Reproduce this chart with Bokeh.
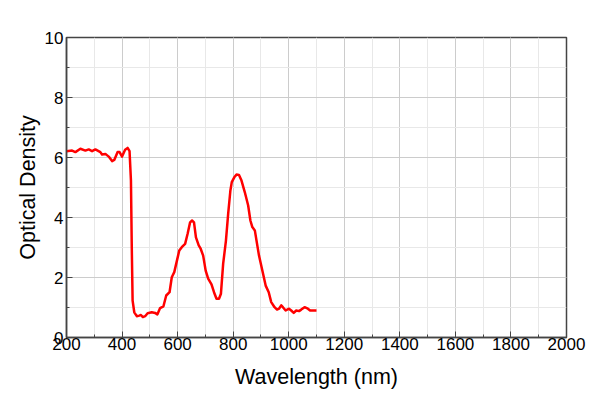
from bokeh.plotting import figure
from bokeh.models import SingleIntervalTicker, Range1d
from bokeh.embed import file_html
from bokeh.resources import INLINE

wavelength = [200, 220, 232, 250, 268, 280, 292, 304, 322, 328, 340, 352, 364, 372, 384, 391, 400, 411, 420, 427,
              432, 435, 438, 444, 453, 462, 468, 475, 483, 492, 507, 519, 527, 537, 549, 559, 571, 579, 588, 599,
              606, 615, 627, 636, 645, 652, 659, 666, 676, 683, 692, 701, 710, 722, 731, 740, 749, 756, 764, 774,
              782, 790, 795, 804, 812, 821, 830, 842, 854, 862, 869, 878, 886, 893, 905, 917, 928, 937, 949, 958,
              965, 973, 979, 989, 1001, 1009, 1018, 1027, 1037, 1045, 1057, 1069, 1077, 1093, 1100]
density = [6.21, 6.23, 6.18, 6.29, 6.23, 6.27, 6.21, 6.27, 6.18, 6.10, 6.12, 6.03, 5.88, 5.92, 6.18, 6.18, 6.03, 6.26, 6.32, 6.21,
           5.23, 3.00, 1.23, 0.84, 0.71, 0.73, 0.75, 0.68, 0.71, 0.81, 0.84, 0.82, 0.77, 0.98, 1.04, 1.40, 1.51, 2.01, 2.18, 2.62,
           2.90, 3.01, 3.12, 3.46, 3.84, 3.90, 3.84, 3.34, 3.07, 2.96, 2.73, 2.23, 1.96, 1.77, 1.51, 1.29, 1.29, 1.46, 2.46, 3.23,
           4.12, 4.90, 5.18, 5.34, 5.43, 5.42, 5.23, 4.84, 4.40, 3.90, 3.68, 3.57, 3.12, 2.73, 2.23, 1.73, 1.51, 1.18, 1.01, 0.93,
           0.96, 1.07, 1.01, 0.90, 0.96, 0.90, 0.82, 0.90, 0.88, 0.93, 1.01, 0.96, 0.90, 0.90, 0.90]

x_label = "Wavelength (nm)"
y_label = "Optical Density"

p = figure(frame_width=500, frame_height=300, output_backend="svg", toolbar_location=None,
           x_range=Range1d(200, 2000), y_range=Range1d(0, 10),
           min_border_left=66, min_border_right=24, min_border_top=37, min_border_bottom=55)
p.outline_line_color = "#444444"
p.outline_line_width = 1.5
p.background_fill_color = "white"
p.border_fill_color = "white"

p.line(wavelength, density, line_color="#ff0000", line_width=2.5, line_join="round")

p.xaxis.ticker = SingleIntervalTicker(interval=200, num_minor_ticks=2)
p.yaxis.ticker = SingleIntervalTicker(interval=2, num_minor_ticks=2)

for ax in (p.xaxis[0], p.yaxis[0]):
    ax.major_tick_in = 6
    ax.major_tick_out = 0
    ax.minor_tick_in = 3
    ax.minor_tick_out = 0
    ax.axis_line_color = "#444444"
    ax.axis_line_width = 1.5
    ax.major_tick_line_color = "#444444"
    ax.minor_tick_line_color = "#444444"
    ax.major_label_text_font = "Liberation Sans"
    ax.major_label_text_font_size = "17px"
    ax.major_label_text_color = "black"
    ax.axis_label_text_font = "Liberation Sans"
    ax.axis_label_text_font_size = "21.5px"
    ax.axis_label_text_font_style = "normal"
    ax.axis_label_text_color = "black"

p.xaxis.axis_label = x_label
p.yaxis.axis_label = y_label
p.xaxis.major_label_standoff = 0
p.yaxis.major_label_standoff = 3
p.xaxis.axis_label_standoff = 12
p.yaxis.axis_label_standoff = 2

for g in (p.xgrid[0], p.ygrid[0]):
    g.grid_line_color = "#cccccc"
    g.grid_line_width = 1
    g.minor_grid_line_color = "#e8e8e8"
    g.minor_grid_line_width = 1

open("out.html", "w").write(file_html(p, INLINE))
